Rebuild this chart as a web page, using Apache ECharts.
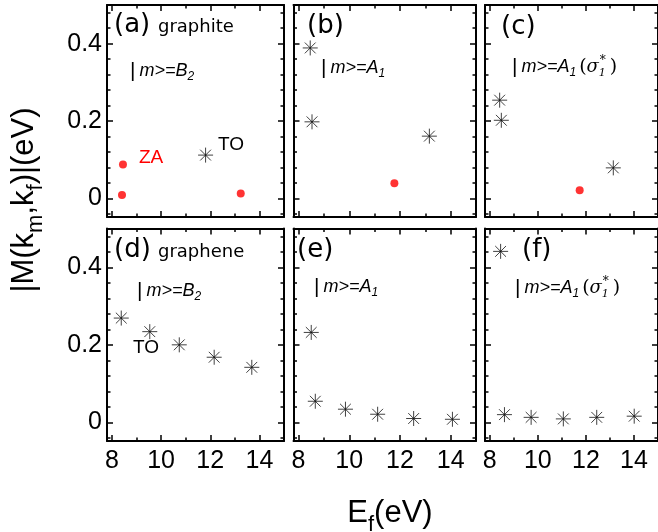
<!DOCTYPE html>
<html>
<head>
<meta charset="utf-8">
<script src="https://cdn.jsdelivr.net/npm/echarts@6/dist/echarts.min.js"></script>
<style>
html,body{margin:0;padding:0;background:#fff;}
#chart{width:658px;height:532px;}
</style>
</head>
<body>
<div id="chart"></div>
<script>
// ---- data (E_f in eV, |M| in eV) ----
// (a) graphite, |m>=B2
const aRedX  = [8.45, 8.41, 13.24];
const aRedY  = [0.088, 0.009, 0.013];
const aStarX = [11.81];
const aStarY = [0.112];
// (b) graphite, |m>=A1
const bStarX = [8.46, 8.53, 13.16];
const bStarY = [0.389, 0.198, 0.161];
const bRedX  = [11.78];
const bRedY  = [0.039];
// (c) graphite, |m>=A1(sigma1*)
const cStarX = [8.41, 8.48, 13.14];
const cStarY = [0.254, 0.202, 0.079];
const cRedX  = [11.74];
const cRedY  = [0.021];
// (d) graphene, |m>=B2
const dStarX = [8.38, 9.54, 10.74, 12.16, 13.69];
const dStarY = [0.269, 0.234, 0.200, 0.168, 0.142];
// (e) graphene, |m>=A1
const eStarX = [8.50, 8.66, 9.85, 11.12, 12.54, 14.07];
const eStarY = [0.232, 0.0545, 0.034, 0.021, 0.010, 0.008];
// (f) graphene, |m>=A1(sigma1*)
const fStarX = [8.45, 8.61, 9.72, 11.06, 12.45, 14.01];
const fStarY = [0.441, 0.020, 0.013, 0.009, 0.013, 0.016];

// ---- ticks ----
const xMajor = [8, 10, 12, 14];
const xMinor = [9, 11, 13];
const yMajor = [0, 0.2, 0.4];
const yMinor = [-0.04, 0.04, 0.08, 0.12, 0.16, 0.24, 0.28, 0.32, 0.36, 0.44, 0.48];
const xRange = [7.8, 15];
const yRange = [-0.048, 0.5];

const pairs = (xs, ys) => xs.map((x, i) => [x, ys[i]]);

const chart = echarts.init(document.getElementById('chart'), null, {renderer: 'canvas'});

const grids = [
  {left: 107,   top: 5,     width: 177,   height: 212},
  {left: 293.5, top: 5,     width: 182.5, height: 212},
  {left: 485,   top: 5,     width: 176.5, height: 212},
  {left: 107,   top: 228.5, width: 177,   height: 212.5},
  {left: 293.5, top: 228.5, width: 182.5, height: 212.5},
  {left: 485,   top: 228.5, width: 176.5, height: 212.5}
];

const xAxes = [], yAxes = [];
const mainX = [], mainY = [];
const numFont = 'Liberation Sans, Arial, sans-serif';
grids.forEach((g, gi) => {
  const row = gi < 3 ? 0 : 1, col = gi % 3;
  const base = {gridIndex: gi, type: 'value', splitLine: {show: false}};
  const mk = (pos, ticks, len, line, label, isX) => Object.assign({}, base, {
    position: pos,
    min: isX ? xRange[0] : yRange[0],
    max: isX ? xRange[1] : yRange[1],
    axisLine: {show: line, onZero: false, lineStyle: {color: '#000', width: 2}},
    axisTick: {show: true, inside: true, length: len, customValues: ticks,
               lineStyle: {color: '#000', width: 1.5}},
    axisLabel: label ? Object.assign({show: true, color: '#000', fontSize: 25,
               fontFamily: numFont}, label) : {show: false}
  });
  mainX.push(xAxes.length);
  xAxes.push(mk('bottom', xMajor, 6, true,
    row === 1 ? {customValues: xMajor, margin: 8} : null, true));
  xAxes.push(mk('bottom', xMinor, 3.5, false, null, true));
  xAxes.push(mk('top', xMajor, 6, true, null, true));
  xAxes.push(mk('top', xMinor, 3.5, false, null, true));
  mainY.push(yAxes.length);
  yAxes.push(mk('left', yMajor, 6, true,
    col === 0 ? {customValues: yMajor, margin: 5,
      formatter: v => (Math.abs(v) < 1e-9 ? '0' : v.toFixed(1))} : null, false));
  yAxes.push(mk('left', yMinor, 3.5, false, null, false));
  yAxes.push(mk('right', yMajor, 6, true, null, false));
  yAxes.push(mk('right', yMinor, 3.5, false, null, false));
});

const starPath = 'path://M0,-10L0,10M-10,0L10,0M-7.2,-7.2L7.2,7.2M-7.2,7.2L7.2,-7.2';
const star = (gi, xs, ys) => ({
  type: 'scatter', xAxisIndex: mainX[gi], yAxisIndex: mainY[gi],
  data: pairs(xs, ys), symbol: starPath, symbolSize: 15,
  itemStyle: {color: '#000', borderColor: '#111', borderWidth: 1},
  silent: true
});
const dot = (gi, xs, ys) => ({
  type: 'scatter', xAxisIndex: mainX[gi], yAxisIndex: mainY[gi],
  data: pairs(xs, ys), symbol: 'circle', symbolSize: 8,
  itemStyle: {color: '#ff0000'}, silent: true
});

const series = [
  dot(0, aRedX, aRedY), star(0, aStarX, aStarY),
  star(1, bStarX, bStarY), dot(1, bRedX, bRedY),
  star(2, cStarX, cStarY), dot(2, cRedX, cRedY),
  star(3, dStarX, dStarY),
  star(4, eStarX, eStarY),
  star(5, fStarX, fStarY)
];

// ---- text annotations ----
const labFont = 'DejaVu Sans, sans-serif';
const stateRich = {
  bar: {fontFamily: numFont, fontSize: 21, padding: [0, 4, 0, 0], lineHeight: 24, verticalAlign: 'middle'},
  it:  {fontFamily: numFont, fontStyle: 'italic', fontSize: 18, lineHeight: 24, verticalAlign: 'middle'},
  sub: {fontFamily: numFont, fontStyle: 'italic', fontSize: 12, lineHeight: 10, verticalAlign: 'bottom'},
  par: {fontFamily: 'DejaVu Serif, serif', fontSize: 19, lineHeight: 24, verticalAlign: 'middle', padding: [0, 0, 0, 3]},
  sig: {fontFamily: 'DejaVu Serif, serif', fontStyle: 'italic', fontSize: 18, lineHeight: 24, verticalAlign: 'middle'},
  s1:  {fontFamily: 'DejaVu Serif, serif', fontStyle: 'italic', fontSize: 11, lineHeight: 9, verticalAlign: 'bottom', width: 1},
  sup: {fontFamily: 'DejaVu Serif, serif', fontSize: 12, lineHeight: 11, verticalAlign: 'top', padding: [0, 1, 0, 0]}
};
const txt = (x, y, text, style) => ({
  type: 'text', x: x, y: y, silent: true,
  style: Object.assign({text: text, fill: '#000', verticalAlign: 'middle', align: 'left'}, style)
});
const panelLab = (x, y, t) => txt(x, y, t, {fontFamily: labFont, fontSize: 26});
const nameLab = (x, y, t) => txt(x, y, t, {fontFamily: labFont, fontSize: 18});
const B2 = '{bar||}{it|m>=B}{sub|2}';
const A1 = '{bar||}{it|m>=A}{sub|1}';
const A1s = '{bar||}{it|m>=A}{sub|1}{par|(}{sig|σ}{s1|1}{sup|*}{par|)}';
const rt = (x, y, t) => txt(x, y, t, {rich: stateRich});

const titleRich = {
  t: {fontFamily: numFont, fontSize: 31, lineHeight: 46, verticalAlign: 'middle'},
  s: {fontFamily: numFont, fontSize: 22, lineHeight: 12, verticalAlign: 'bottom'}
};

const graphic = [
  panelLab(114, 25, '(a)'), nameLab(158, 27, 'graphite'), rt(130, 71, B2),
  txt(139, 158, 'ZA', {fontFamily: numFont, fontSize: 19, fill: '#ff0000'}),
  txt(218, 145, 'TO', {fontFamily: numFont, fontSize: 19}),
  panelLab(307, 26, '(b)'), rt(321, 68, A1),
  panelLab(501, 27, '(c)'), rt(512, 67, A1s),
  panelLab(114, 250, '(d)'), nameLab(158, 252, 'graphene'), rt(137, 291, B2),
  txt(133, 348, 'TO', {fontFamily: numFont, fontSize: 19}),
  panelLab(297, 250, '(e)'), rt(314, 287, A1),
  panelLab(522, 250, '(f)'), rt(515, 288, A1s),
  // axis titles
  {type: 'text', x: 24, y: 200, rotation: Math.PI / 2, silent: true,
   style: {text: '{t||M(k}{s|m}{t|,k}{s|f}{t|)|(eV)}', align: 'center', verticalAlign: 'middle',
     fill: '#000', rich: titleRich}},
  {type: 'text', x: 390, y: 513, silent: true,
   style: {text: '{t|E}{s|f}{t|(eV)}', align: 'center', verticalAlign: 'middle',
     fill: '#000', rich: titleRich}}
];

chart.setOption({
  animation: false,
  backgroundColor: '#fff',
  grid: grids.map(g => Object.assign({containLabel: false}, g)),
  xAxis: xAxes,
  yAxis: yAxes,
  series: series,
  graphic: graphic
});
</script>
</body>
</html>
